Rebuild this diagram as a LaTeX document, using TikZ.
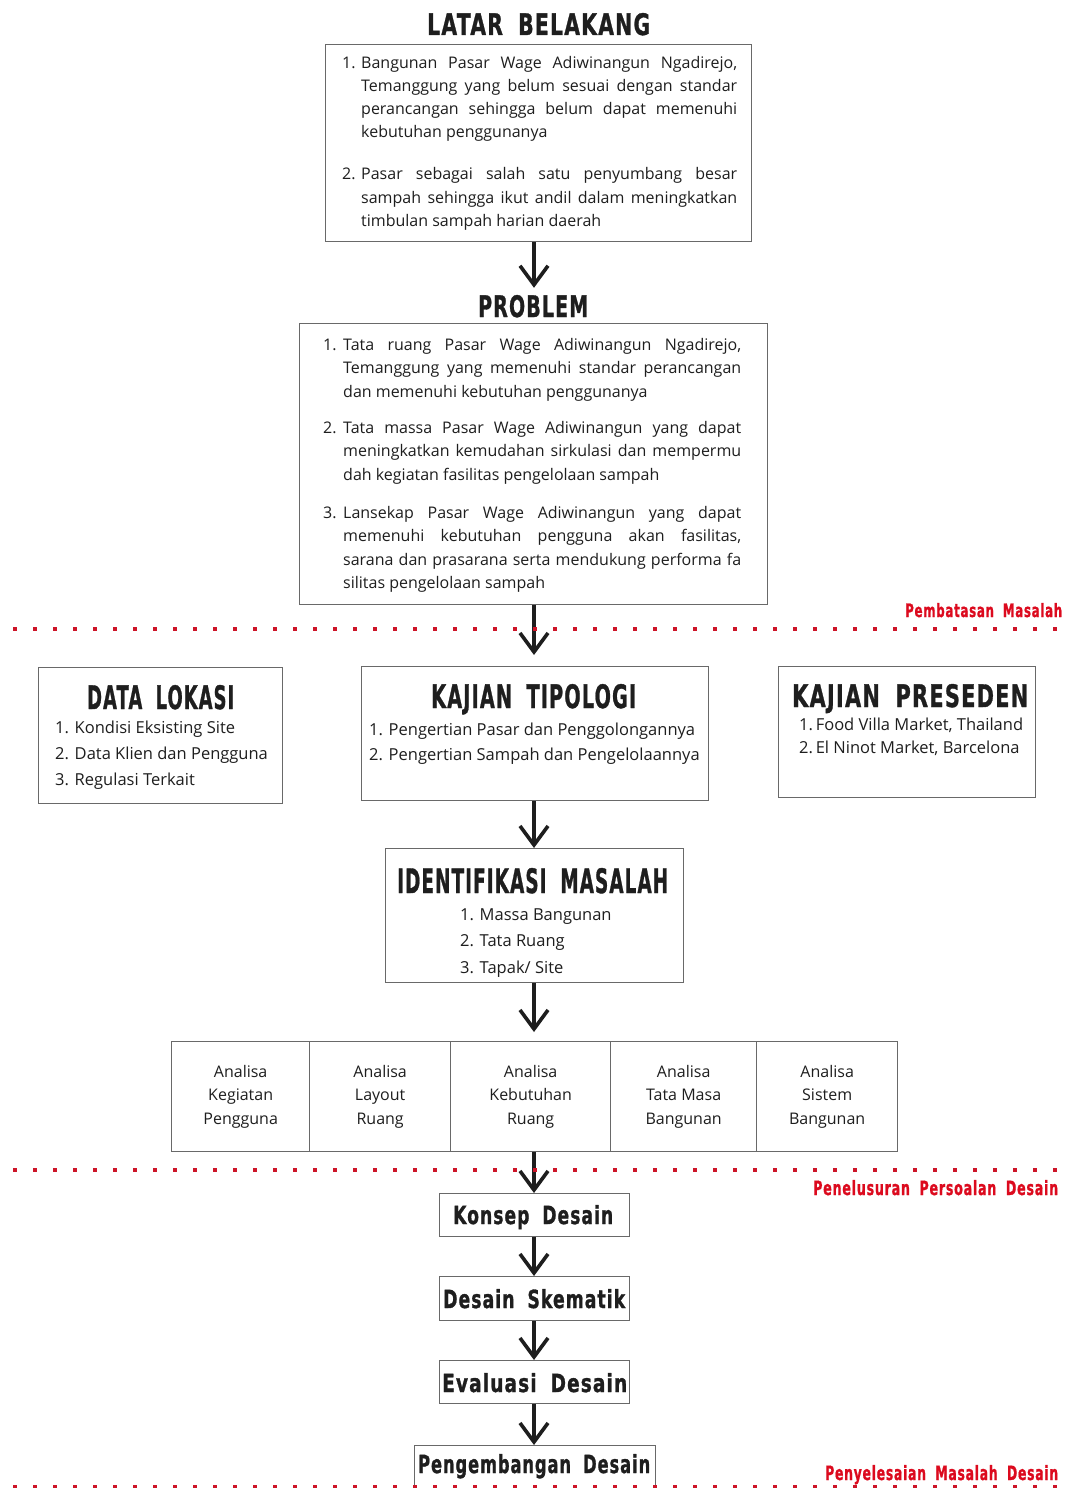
\documentclass[tikz,border=0pt]{standalone}
\usepackage{fontspec}
\usepackage{graphicx}
\setmainfont{Open Sans}
\newfontfamily\ttl{DejaVu Sans}[LetterSpace=6,FakeBold=1.2]
\usetikzlibrary{arrows.meta}
\definecolor{redline}{RGB}{205,20,40}
\definecolor{redtxt}{RGB}{220,10,30}
\definecolor{boxgray}{RGB}{105,105,105}
\definecolor{ink}{RGB}{30,30,30}
\newcommand\tfit[3]{\resizebox{#1pt}{#2pt}{\ttl\bfseries #3}}
\newcommand\itm[2]{\hangindent=#1pt\hangafter=1\noindent\makebox[#1pt][l]{#2}\ignorespaces}
\newcommand\gap{\hspace{0.75em}}
\begin{document}
\begin{tikzpicture}[x=1pt,y=-1pt,
  box/.style={draw=boxgray, line width=1.3pt, inner sep=0, anchor=north west},
  arr/.style={draw=ink, line width=3.6pt, -{Straight Barb[length=19pt,width=28pt]}},
  dots/.style={draw=redline, line width=4pt, dash pattern=on 4pt off 16pt},
  ttlnode/.style={inner sep=0, anchor=base west, text=ink},
  redlbl/.style={inner sep=0, anchor=base west, text=redtxt},
  body/.style={inner sep=0, anchor=base west, text=ink},
  cell/.style={box, align=center, text=ink, font=\fontsize{16}{23.5}\selectfont}]
\useasboundingbox (0,0) rectangle (1068,1488);
\fill[white] (0,0) rectangle (1068,1488);
\clip (0,0) rectangle (1068,1488);
\coordinate (spine) at (534,0);

% ---------- LATAR BELAKANG ----------
\node[ttlnode] (lbT) at (427,35) {\tfit{223}{22}{LATAR\gap BELAKANG}};
\node[box, minimum width=426pt, minimum height=197pt] (lb) at (325,44) {};
\node[body] (lbt) at (342,68) {\parbox[t]{395pt}{\fontsize{16}{23.3}\selectfont
\itm{19}{1.}Bangunan Pasar Wage Adiwinangun Ngadirejo, \linebreak Temanggung yang belum sesuai dengan standar \linebreak perancangan sehingga belum dapat memenuhi \linebreak kebutuhan penggunanya\par
\vspace{18.7pt}
\itm{19}{2.}Pasar sebagai salah satu penyumbang besar \linebreak sampah sehingga ikut andil dalam meningkatkan \linebreak timbulan sampah harian daerah\par}};

% ---------- PROBLEM ----------
\node[ttlnode] (pbT) at (478,317) {\tfit{110}{22}{PROBLEM}};
\node[box, minimum width=468pt, minimum height=281pt] (pb) at (299,323) {};
\node[body] (pbt) at (323,350) {\parbox[t]{418pt}{\fontsize{16}{23.5}\selectfont
\itm{20}{1.}Tata ruang Pasar Wage Adiwinangun Ngadirejo, \linebreak Temanggung yang memenuhi standar perancangan \linebreak dan memenuhi kebutuhan penggunanya\par
\vspace{12.5pt}
\itm{20}{2.}Tata massa Pasar Wage Adiwinangun yang dapat \linebreak meningkatkan kemudahan sirkulasi dan mempermu\linebreak dah kegiatan fasilitas pengelolaan sampah\par
\vspace{14.5pt}
\itm{20}{3.}Lansekap Pasar Wage Adiwinangun yang dapat \linebreak memenuhi kebutuhan pengguna akan fasilitas, \linebreak sarana dan prasarana serta mendukung performa fa\linebreak silitas pengelolaan sampah\par}};

% ---------- DATA LOKASI ----------
\node[box, minimum width=244pt, minimum height=136pt] (dl) at (38,667) {};
\node[ttlnode] (dlT) at (87,709) {\tfit{147}{24}{DATA\gap LOKASI}};
\node[body] (dlt) at (55,733) {\parbox[t]{220pt}{\fontsize{16.5}{26}\selectfont
1. Kondisi Eksisting Site\\2. Data Klien dan Pengguna\\3. Regulasi Terkait}};

% ---------- KAJIAN TIPOLOGI ----------
\node[box, minimum width=347pt, minimum height=134pt] (kt) at (361,666) {};
\node[ttlnode] (ktT) at (431,708) {\tfit{205}{24}{KAJIAN\gap TIPOLOGI}};
\node[body] (ktt) at (369,735) {\parbox[t]{335pt}{\fontsize{16.5}{25}\selectfont
1. Pengertian Pasar dan Penggolongannya\\2. Pengertian Sampah dan Pengelolaannya}};

% ---------- KAJIAN PRESEDEN ----------
\node[box, minimum width=257pt, minimum height=131pt] (kp) at (778,666) {};
\node[ttlnode] (kpT) at (792,707) {\tfit{236}{23}{KAJIAN\gap PRESEDEN}};
\node[body] (kpt) at (799,730) {\parbox[t]{230pt}{\fontsize{16.5}{23.5}\selectfont
1.\,Food Villa Market, Thailand\\2.\,El Ninot Market, Barcelona}};

% ---------- IDENTIFIKASI MASALAH ----------
\node[box, minimum width=298pt, minimum height=134pt] (im) at (385,848) {};
\node[ttlnode] (imT) at (397,893) {\tfit{271}{25}{IDENTIFIKASI\gap MASALAH}};
\node[body] (imt) at (460,920) {\parbox[t]{200pt}{\fontsize{16.5}{26.5}\selectfont
1. Massa Bangunan\\2. Tata Ruang\\3. Tapak/ Site}};

% ---------- ANALISA ----------
\node[cell, minimum width=138pt, minimum height=110pt] (a1) at (171,1041) {Analisa\\Kegiatan\\Pengguna};
\node[cell, minimum width=141pt, minimum height=110pt] (a2) at (309,1041) {Analisa\\Layout\\Ruang};
\node[cell, minimum width=160pt, minimum height=110pt] (a3) at (450,1041) {Analisa\\Kebutuhan\\Ruang};
\node[cell, minimum width=146pt, minimum height=110pt] (a4) at (610,1041) {Analisa\\Tata Masa\\Bangunan};
\node[cell, minimum width=141pt, minimum height=110pt] (a5) at (756,1041) {Analisa\\Sistem\\Bangunan};

% ---------- DESAIN ----------
\node[box, minimum width=190pt, minimum height=43pt] (ks) at (439,1193) {};
\node[ttlnode] (ksT) at (453,1224) {\tfit{160}{19}{Konsep\gap Desain}};
\node[box, minimum width=190pt, minimum height=44pt] (sk) at (439,1276) {};
\node[ttlnode] (skT) at (443,1308) {\tfit{182}{19}{Desain\gap Skematik}};
\node[box, minimum width=190pt, minimum height=43pt] (ev) at (439,1360) {};
\node[ttlnode] (evT) at (442,1392) {\tfit{185}{19}{Evaluasi\gap Desain}};
\node[box, minimum width=241pt, minimum height=60pt] (pd) at (414,1445) {};
\node[ttlnode] (pdT) at (418,1473) {\tfit{232}{19}{Pengembangan\gap Desain}};

% ---------- ARROWS ----------
\draw[arr, shorten >=7pt] (lb.south -| spine) -- (pbT.north -| spine);
\draw[arr, shorten >=11pt] (pb.south -| spine) -- (kt.north -| spine);
\draw[arr] (kt.south -| spine) -- (im.north -| spine);
\draw[arr, shorten >=9pt] (im.south -| spine) -- (a3.north -| spine);
\draw[arr] (a3.south -| spine) -- (ks.north -| spine);
\draw[arr] (ks.south -| spine) -- (sk.north -| spine);
\draw[arr] (sk.south -| spine) -- (ev.north -| spine);
\draw[arr] (ev.south -| spine) -- (pd.north -| spine);

% ---------- RED SEPARATORS ----------
\draw[dots] (13,629) -- (1066,629);
\draw[dots] (13,1170) -- (1066,1170);
\draw[dots] (13,1487) -- (1066,1487);
\node[redlbl] (l1) at (905,617) {\tfit{157}{14}{Pembatasan\gap Masalah}};
\node[redlbl] (l2) at (813,1195) {\tfit{245}{15}{Penelusuran\gap Persoalan\gap Desain}};
\node[redlbl] (l3) at (825,1480) {\tfit{233}{15}{Penyelesaian\gap Masalah\gap Desain}};
\end{tikzpicture}
\end{document}
